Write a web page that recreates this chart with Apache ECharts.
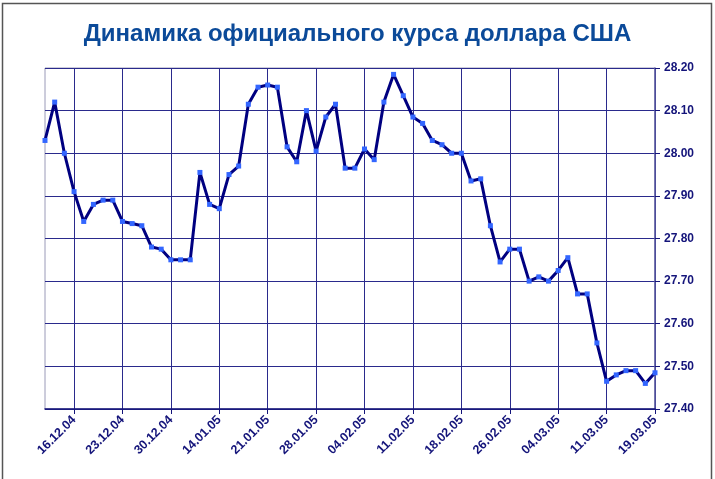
<!DOCTYPE html>
<html>
<head>
<meta charset="utf-8">
<script src="https://cdn.jsdelivr.net/npm/echarts@6/dist/echarts.min.js"></script>
<style>
  html, body { margin: 0; padding: 0; background: #fff; }
  #chart { width: 715px; height: 479px; }
</style>
</head>
<body>
<div id="chart"></div>
<script>
  // trading days (rate dates), labels shown every 5th starting at 16.12.04
  const dates = [
    '11.12.04', '14.12.04', '15.12.04', '16.12.04', '17.12.04',
    '18.12.04', '21.12.04', '22.12.04', '23.12.04', '24.12.04',
    '25.12.04', '28.12.04', '29.12.04', '30.12.04', '31.12.04',
    '11.01.05', '12.01.05', '13.01.05', '14.01.05', '15.01.05',
    '18.01.05', '19.01.05', '20.01.05', '21.01.05', '22.01.05',
    '25.01.05', '26.01.05', '27.01.05', '28.01.05', '29.01.05',
    '01.02.05', '02.02.05', '03.02.05', '04.02.05', '05.02.05',
    '08.02.05', '09.02.05', '10.02.05', '11.02.05', '12.02.05',
    '15.02.05', '16.02.05', '17.02.05', '18.02.05', '19.02.05',
    '22.02.05', '24.02.05', '25.02.05', '26.02.05', '28.02.05',
    '01.03.05', '02.03.05', '03.03.05', '04.03.05', '05.03.05',
    '06.03.05', '09.03.05', '10.03.05', '11.03.05', '12.03.05',
    '15.03.05', '16.03.05', '18.03.05', '19.03.05'
  ]

  const usdRate = [
    28.03, 28.12, 28.00, 27.91, 27.84, 27.88, 27.89, 27.89, 27.84, 27.835,
    27.83, 27.78, 27.775, 27.75, 27.75, 27.75, 27.955, 27.88, 27.87, 27.95,
    27.97, 28.115, 28.155, 28.16, 28.155, 28.015, 27.98, 28.10, 28.005, 28.085,
    28.115, 27.965, 27.965, 28.01, 27.985, 28.12, 28.185, 28.135, 28.085, 28.07,
    28.03, 28.02, 28.00, 28.00, 27.935, 27.94, 27.83, 27.745, 27.775, 27.775,
    27.70, 27.71, 27.70, 27.725, 27.755, 27.67, 27.67, 27.555, 27.465, 27.48,
    27.49, 27.49, 27.46, 27.485
  ]

  const yMin = 27.4
  const yMax = 28.2
  const yStep = 0.1

  const navy = '#14147a'
  const everyFifth = (idx) => (idx - 3) % 5 === 0

  const myChart = echarts.init(document.getElementById('chart'))
  myChart.setOption({
    animation: false,
    title: {
      text: 'Динамика официального курса доллара США',
      left: 'center',
      top: 17,
      textStyle: {
        fontFamily: 'Liberation Sans, Arial, sans-serif',
        fontSize: 24,
        fontWeight: 'bold',
        color: '#0b4a99'
      }
    },
    graphic: [{
      type: 'rect',
      shape: { x: 2.5, y: 3.5, width: 709, height: 490 },
      style: { fill: 'none', stroke: '#555', lineWidth: 1.5 },
      silent: true
    }],
    grid: {
      left: 45,
      right: 60,
      top: 68,
      bottom: 70,
      show: true,
      borderColor: '#9a9ab8',
      borderWidth: 1
    },
    xAxis: {
      type: 'category',
      boundaryGap: false,
      data: dates,
      axisLine: { lineStyle: { color: navy, width: 1.5 } },
      axisTick: {
        show: true,
        interval: everyFifth,
        length: 5,
        lineStyle: { color: navy }
      },
      axisLabel: {
        interval: everyFifth,
        rotate: 45,
        margin: 9,
        color: navy,
        fontFamily: 'Liberation Sans, Arial, sans-serif',
        fontWeight: 'bold',
        fontSize: 12.5
      },
      splitLine: {
        show: true,
        interval: everyFifth,
        lineStyle: { color: '#2a2a8c', width: 1 }
      }
    },
    yAxis: {
      type: 'value',
      position: 'right',
      min: yMin,
      max: yMax,
      interval: yStep,
      axisLine: { show: true, lineStyle: { color: '#5a5aa0', width: 1.5 } },
      axisTick: { show: true, length: 5, lineStyle: { color: navy } },
      axisLabel: {
        margin: 9,
        color: navy,
        fontFamily: 'Liberation Sans, Arial, sans-serif',
        fontWeight: 'bold',
        fontSize: 12,
        formatter: (v) => v.toFixed(2)
      },
      splitLine: { lineStyle: { color: '#2a2a8c', width: 1 } }
    },
    series: [{
      type: 'line',
      data: usdRate,
      symbol: 'rect',
      symbolSize: 5,
      showAllSymbol: true,
      itemStyle: { color: '#3366ff' },
      lineStyle: { color: '#000080', width: 3 },
      z: 3
    }]
  })
</script>
</body>
</html>
